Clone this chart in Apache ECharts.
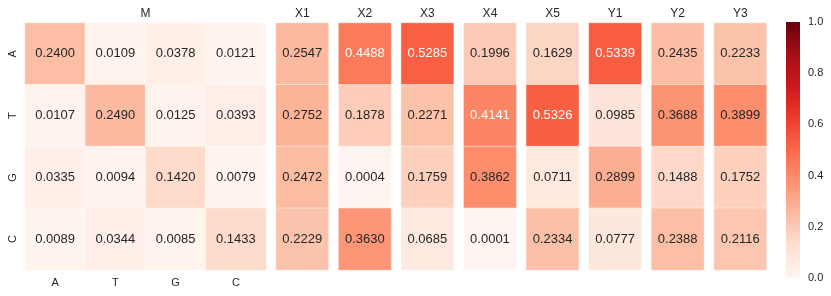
<!DOCTYPE html>
<html><head><meta charset="utf-8">
<script src="https://cdn.jsdelivr.net/npm/echarts@6/dist/echarts.min.js"></script>
<style>html,body{margin:0;padding:0;background:#fff;}#c{width:831px;height:296px;}</style>
</head><body><div id="c"></div>
<script>
const bases = ['A', 'T', 'G', 'C'];
const mTitle = 'M';
const mValues = [
  [0.2400, 0.0109, 0.0378, 0.0121],
  [0.0107, 0.2490, 0.0125, 0.0393],
  [0.0335, 0.0094, 0.1420, 0.0079],
  [0.0089, 0.0344, 0.0085, 0.1433]
];
const colNames = ['X1', 'X2', 'X3', 'X4', 'X5', 'Y1', 'Y2', 'Y3'];
const X1 = [0.2547, 0.2752, 0.2472, 0.2229];
const X2 = [0.4488, 0.1878, 0.0004, 0.3630];
const X3 = [0.5285, 0.2271, 0.1759, 0.0685];
const X4 = [0.1996, 0.4141, 0.3862, 0.0001];
const X5 = [0.1629, 0.5326, 0.0711, 0.2334];
const Y1 = [0.5339, 0.0985, 0.2899, 0.0777];
const Y2 = [0.2435, 0.3688, 0.1488, 0.2388];
const Y3 = [0.2233, 0.3899, 0.1752, 0.2116];
const colValues = [X1, X2, X3, X4, X5, Y1, Y2, Y3];
const colorbarTicks = [0, 0.2, 0.4, 0.6, 0.8, 1.0];

const reds = ['#fff5f0','#fee0d2','#fcbba1','#fc9272','#fb6a4a','#ef3b2c','#cb181d','#a50f15','#67000d'];
const FONT = 'Liberation Sans, Arial, sans-serif';
const TXT = '#262626';

function labelColor(v){ return v > 0.4 ? '#ffffff' : TXT; }

const chart = echarts.init(document.getElementById('c'), null, {renderer:'canvas'});

const grids = [], xAxes = [], yAxes = [], series = [];
const gTop = 23, gHeight = 247;

// M block
grids.push({left:25, top:gTop, width:241, height:gHeight});
xAxes.push({type:'category', gridIndex:0, data:bases, position:'bottom',
  axisLine:{show:false}, axisTick:{show:false}, splitLine:{show:false},
  axisLabel:{color:TXT, fontSize:11, fontFamily:FONT, margin:7}});
xAxes.push({type:'category', gridIndex:0, data:[mTitle], position:'top',
  axisLine:{show:false}, axisTick:{show:false}, splitLine:{show:false},
  axisLabel:{color:TXT, fontSize:12, fontFamily:FONT, margin:3}});
yAxes.push({type:'category', gridIndex:0, data:bases, inverse:true,
  axisLine:{show:false}, axisTick:{show:false}, splitLine:{show:false},
  axisLabel:{color:TXT, fontSize:11, fontFamily:FONT, rotate:90, margin:7}});
const mData = [];
mValues.forEach((row, r) => row.forEach((v, c) => {
  mData.push({value:[c, r, v], label:{color:labelColor(v)}});
}));
series.push({type:'heatmap', xAxisIndex:0, yAxisIndex:0, data:mData,
  label:{show:true, formatter:p => p.value[2].toFixed(4), fontSize:13, fontFamily:FONT},
  itemStyle:{borderColor:'rgba(255,255,255,0.55)', borderWidth:0.8},
  emphasis:{disabled:true}});

// single columns
const colLeft0 = 276, colStep = 62.57, colWidth = 52.5;
colNames.forEach((name, i) => {
  const gi = i + 1;
  grids.push({left:colLeft0 + i*colStep, top:gTop, width:colWidth, height:gHeight});
  xAxes.push({type:'category', gridIndex:gi, data:[name], position:'top',
    axisLine:{show:false}, axisTick:{show:false}, splitLine:{show:false},
    axisLabel:{color:TXT, fontSize:12, fontFamily:FONT, margin:3}});
  yAxes.push({type:'category', gridIndex:gi, data:bases, inverse:true, show:false});
  const d = colValues[i].map((v, r) => ({value:[0, r, v], label:{color:labelColor(v)}}));
  series.push({type:'heatmap', xAxisIndex:xAxes.length-1, yAxisIndex:yAxes.length-1, data:d,
    label:{show:true, formatter:p => p.value[2].toFixed(4), fontSize:13, fontFamily:FONT},
    itemStyle:{borderColor:'rgba(255,255,255,0.55)', borderWidth:0.8},
    emphasis:{disabled:true}});
});

// colorbar axis
const cbLeft = 786, cbTop = 22, cbW = 14, cbH = 256;
grids.push({left:cbLeft, top:cbTop, width:cbW, height:cbH});
const cbi = grids.length - 1;
xAxes.push({type:'value', gridIndex:cbi, show:false, min:0, max:1});
yAxes.push({type:'value', gridIndex:cbi, min:colorbarTicks[0], max:colorbarTicks[colorbarTicks.length-1], interval:0.2,
  position:'right', axisLine:{show:false}, axisTick:{show:false}, splitLine:{show:false},
  axisLabel:{color:TXT, fontSize:11, fontFamily:FONT, margin:8, formatter:v => v.toFixed(1)}});

const stops = reds.map((c, i) => ({offset: 1 - i/(reds.length-1), color:c}));

chart.setOption({
  animation:false,
  backgroundColor:'#ffffff',
  grid:grids, xAxis:xAxes, yAxis:yAxes, series:series,
  visualMap:{type:'continuous', min:0, max:1, show:false, seriesIndex:series.map((s,i)=>i),
    inRange:{color:reds}},
  graphic:[{type:'rect', shape:{x:cbLeft, y:cbTop, width:cbW, height:cbH},
    style:{fill:new echarts.graphic.LinearGradient(0,0,0,1,stops)}, silent:true, z:10}]
});
</script></body></html>
